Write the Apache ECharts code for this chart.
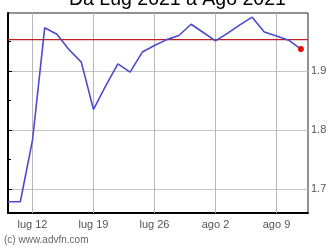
<!DOCTYPE html>
<html><head><meta charset="utf-8">
<script src="https://cdn.jsdelivr.net/npm/echarts@6/dist/echarts.min.js"></script>
<style>html,body{margin:0;padding:0;background:#fff}#c{width:330px;height:248px}</style>
</head><body><div id="c"></div>
<script>
var dates = ['2021-07-08','2021-07-09','2021-07-12','2021-07-13','2021-07-14','2021-07-15','2021-07-16',
  '2021-07-19','2021-07-20','2021-07-21','2021-07-22','2021-07-23',
  '2021-07-26','2021-07-27','2021-07-28','2021-07-29','2021-07-30',
  '2021-08-02','2021-08-03','2021-08-04','2021-08-05','2021-08-06',
  '2021-08-09','2021-08-10','2021-08-11'];
var prices = [1.679,1.679,1.783,1.973,1.962,1.936,1.915,
  1.835,1.875,1.912,1.898,1.932,
  1.943,1.953,1.960,1.979,1.965,
  1.951,1.964,1.978,1.991,1.966,
  1.959,1.952,1.937];
var refLevel = 1.953;
var xTickIdx = [2,7,12,17,22];
var xTickLabels = ['lug 12','lug 19','lug 26','ago 2','ago 9'];
var yTicks = [1.7,1.8,1.9];
var yTickLabels = ['1.7','1.8','1.9'];
var yMinor = [1.75,1.85,1.95];
var titleText = 'Da Lug 2021 a Ago 2021';
var credit = '(c) www.advfn.com';

var X_MIN = -0.0082, X_MAX = 24.582, Y_MIN = 1.66, Y_MAX = 1.998;

var seriesData = prices.map(function(v,i){
  if (i === prices.length-1) return {value:[i,v], symbol:'circle', symbolSize:6, itemStyle:{color:'#e01010'}};
  return {value:[i,v]};
});
var gridSeries = xTickIdx.map(function(x){
  return {type:'line',data:[[x,Y_MIN],[x,Y_MAX]],symbol:'none',silent:true,z:1,clip:false,
    lineStyle:{color:'#b8b8b8',width:1},emphasis:{disabled:true}};
});
var refSeries = {type:'line',data:[[X_MIN,refLevel],[X_MAX,refLevel]],symbol:'none',silent:true,z:2,
    lineStyle:{color:'#c02020',width:1.2},emphasis:{disabled:true}};

var chart = echarts.init(document.getElementById('c'), null, {renderer:'canvas'});
chart.setOption({
  animation:false,
  backgroundColor:'#fff',
  title:{text:titleText,left:64,top:-15,textStyle:{fontFamily:'Liberation Sans',fontSize:19.5,fontWeight:'normal',color:'#000'}},
  graphic:[{type:'text',left:4,top:235,style:{text:credit,fontFamily:'Liberation Sans',fontSize:10,fill:'#666'}}],
  grid:{left:8,right:22,top:13,bottom:35,show:true,borderColor:'#222',borderWidth:1,backgroundColor:'#fff'},
  xAxis:{type:'value',min:X_MIN,max:X_MAX,
    axisLine:{show:true,onZero:false,lineStyle:{color:'#000',width:2}},
    axisTick:{show:true,inside:true,length:4,customValues:xTickIdx,lineStyle:{color:'#000'}},
    axisLabel:{customValues:xTickIdx,margin:6,fontFamily:'Liberation Sans',fontSize:11,color:'#555',
      formatter:function(v){var k=xTickIdx.indexOf(Math.round(v));return k>=0?xTickLabels[k]:'';}},
    splitLine:{show:false}},
  yAxis:[{type:'value',position:'right',min:Y_MIN,max:Y_MAX,
    axisLine:{show:true,lineStyle:{color:'#000',width:1}},
    axisTick:{show:true,inside:false,length:4,customValues:yTicks,lineStyle:{color:'#000'}},
    axisLabel:{customValues:yTicks,margin:3,fontFamily:'Liberation Sans',fontSize:11,color:'#555',
      formatter:function(v){var k=yTicks.indexOf(Math.round(v*10)/10);return k>=0?yTickLabels[k]:'';}},
    splitLine:{show:true,lineStyle:{color:'#c4c4c4',width:1}}},
   {type:'value',position:'left',min:Y_MIN,max:Y_MAX,
    axisLine:{show:true,lineStyle:{color:'#000',width:2}},
    axisTick:{show:true,inside:true,length:3,customValues:yMinor,lineStyle:{color:'#000'}},
    axisLabel:{show:false},splitLine:{show:false}}],
  series:gridSeries.concat([refSeries,
   {type:'line',data:seriesData,symbol:'none',showSymbol:true,showAllSymbol:true,z:3,
    lineStyle:{color:'#4b4bcf',width:1.6},itemStyle:{color:'#4b4bcf'}}])
});
</script></body></html>
